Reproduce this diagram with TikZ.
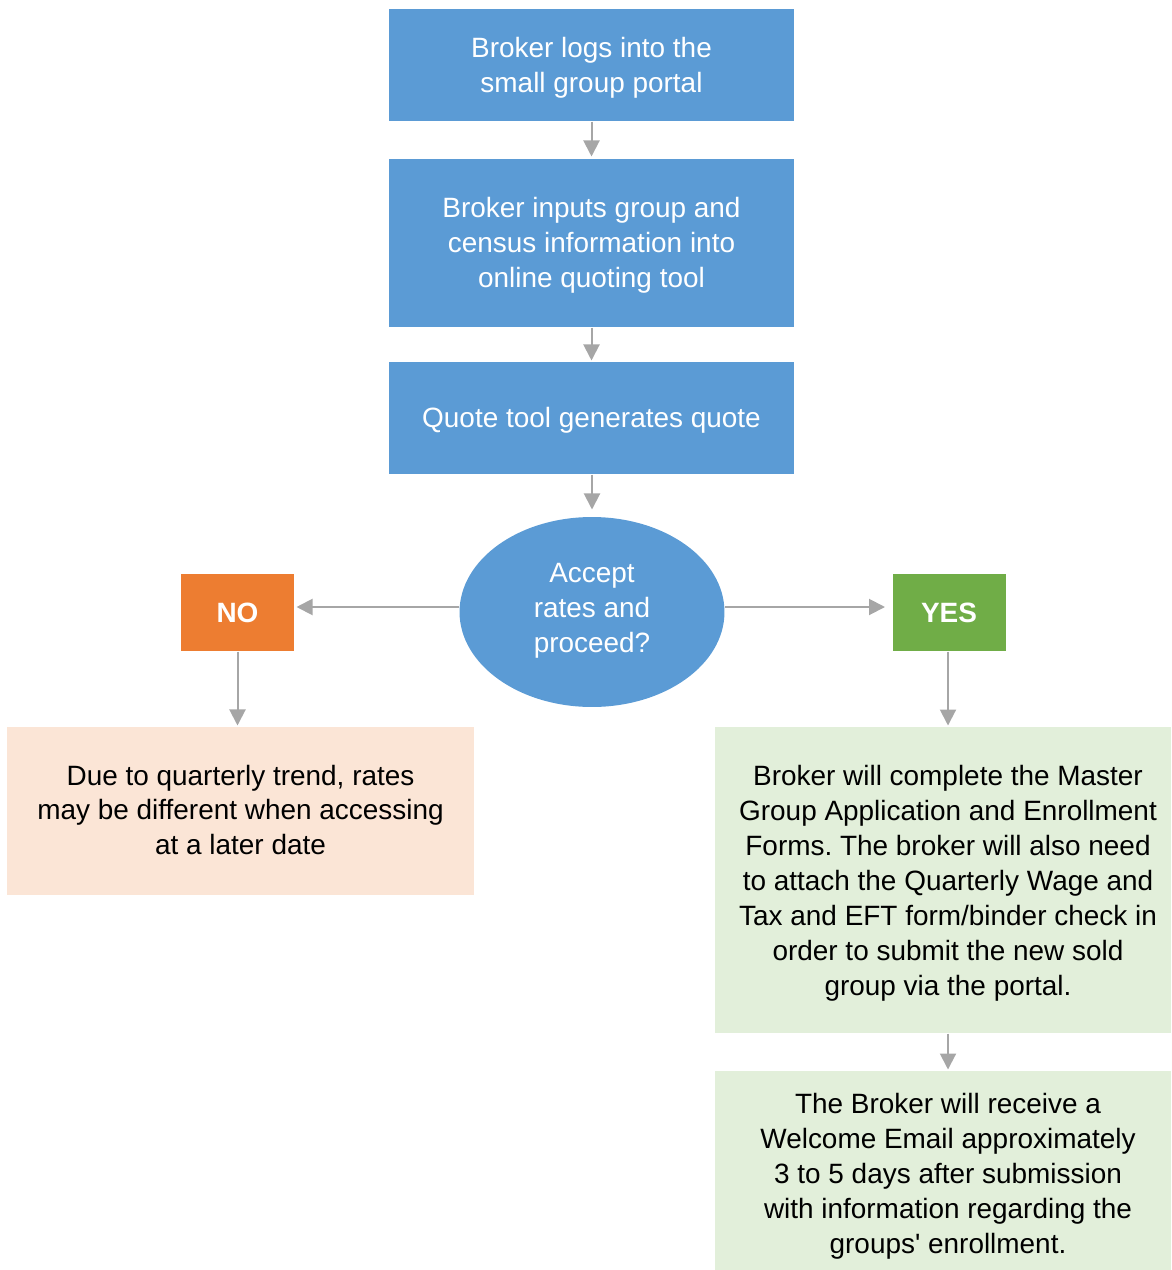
\documentclass[tikz,border=0pt]{standalone}
\usepackage{fontspec}
\setmainfont{Liberation Sans}
\usepackage{xcolor}
\usepackage{tikz}
\usetikzlibrary{arrows.meta}
\usetikzlibrary{shapes.geometric}
\usetikzlibrary{calc}
\frenchspacing

\definecolor{stepblue}{HTML}{5B9BD5}
\definecolor{noorange}{HTML}{ED7D31}
\definecolor{yesgreen}{HTML}{70AD47}
\definecolor{nopink}{HTML}{FBE5D6}
\definecolor{yespale}{HTML}{E2EFDA}
\definecolor{arrgray}{HTML}{A6A6A6}

\begin{document}
\begin{tikzpicture}[x=0.02cm, y=-0.02cm, semithick]
 	  \tikzstyle{txt}=[inner sep=0pt, align=center, font=\fontsize{15.9}{19.9}\selectfont]
 	  \tikzstyle{stepbox}=[rectangle, fill=stepblue, minimum width=8.1cm]
 	  \tikzstyle{answer}=[txt, rectangle, text=white, font=\fontsize{15.9}{19.9}\selectfont\bfseries, minimum width=2.26cm, minimum height=1.54cm]
 	  \tikzstyle{note}=[rectangle]
 	  \tikzstyle{flow}=[draw=arrgray, line width=0.04cm, -{Triangle[width=0.32cm, length=0.32cm]}]
\useasboundingbox (0,0) rectangle (1171,1270);
    % main steps
    \node[stepbox, minimum height=2.24cm, label={[txt, text=white, yshift=-0.06cm]center:{Broker logs into the\\small group portal}}] (login) at (591.5,65) {};
    \node[stepbox, minimum height=3.36cm, label={[txt, text=white, yshift=-0.04cm]center:{Broker inputs group and\\census information into\\online quoting tool}}] (census) at (591.5,243) {};
    \node[stepbox, minimum height=2.24cm, label={[txt, text=white, yshift=-0.04cm]center:{Quote tool generates quote}}] (quote) at (591.5,418) {};
    \node[ellipse, fill=stepblue, minimum width=5.3cm, minimum height=3.8cm, label={[txt, text=white, yshift=0.02cm]center:{Accept\\rates and\\proceed?}}] (accept) at (592,612) {};
    % answers
    \node[answer, fill=noorange] (no) at (237.5,612.5) {NO};
    \node[answer, fill=yesgreen] (yes) at (949,612.5) {YES};
    \node[note, fill=nopink, minimum width=9.34cm, minimum height=3.36cm, label={[txt, yshift=0.02cm]center:{Due to quarterly trend, rates\\may be different when accessing\\at a later date}}] (later) at (240.5,811) {};
    \node[note, fill=yespale, minimum width=9.12cm, minimum height=6.12cm, label={[txt, xshift=0.1cm, yshift=-0.06cm]center:{Broker will complete the Master\\Group Application and Enrollment\\Forms. The broker will also need\\to attach the Quarterly Wage and\\Tax and EFT form/binder check in\\order to submit the new sold\\group via the portal.}}] (forms) at (943,880) {};
    \node[note, fill=yespale, minimum width=9.12cm, minimum height=3.98cm, label={[txt, xshift=0.1cm, yshift=-0.12cm]center:{The Broker will receive a\\Welcome Email approximately\\3 to 5 days after submission\\with information regarding the\\groups\textquotesingle\ enrollment.}}] (welcome) at (943,1170.5) {};
    % connectors
    \draw[flow, shorten >=0.04cm] (login) -- (census);
    \draw[flow, shorten >=0.02cm] (census) -- (quote);
    \draw[flow, shorten >=0.14cm] (quote.south -| accept) -- (accept);
    \draw[flow, shorten >=0.04cm] ($(accept.west)+(0,-5)$) -- ($(no.east)+(0,-5.5)$);
    \draw[flow, shorten >=0.14cm] ($(accept.east)+(0,-5)$) -- ($(yes.west)+(0,-5.5)$);
    \draw[flow, shorten >=0.02cm] (no) -- (later.north -| no);
    \draw[flow, shorten >=0.02cm] ($(yes.south)+(-1,0)$) -- (forms.north -| 948,0);
    \draw[flow, shorten >=0.02cm] (forms.south -| 948,0) -- (welcome.north -| 948,0);
   \end{tikzpicture}
\end{document}
